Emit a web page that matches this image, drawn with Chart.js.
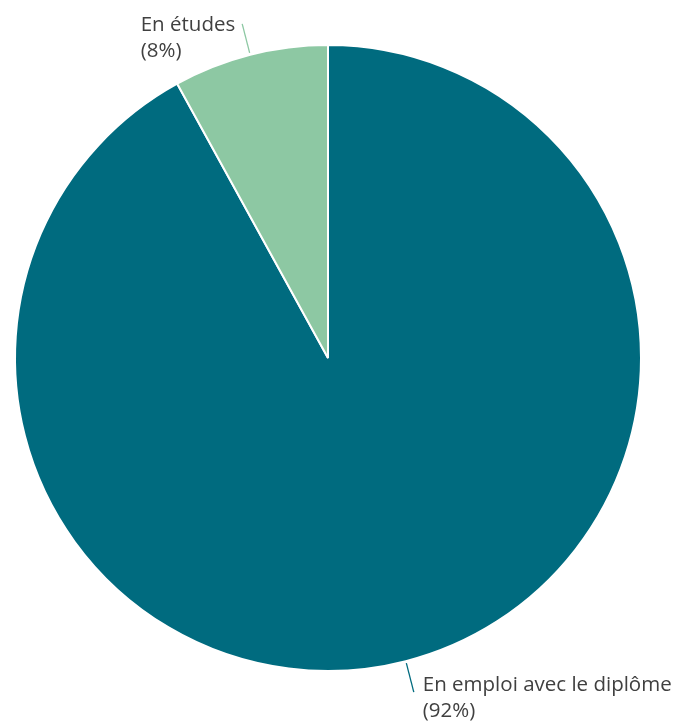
<!DOCTYPE html>
<html>
<head>
<meta charset="utf-8">
<script src="https://cdn.jsdelivr.net/npm/chart.js@4"></script>
<style>
  body { margin: 0; background: #fff; }
</style>
</head>
<body>
<canvas id="myChart" width="681" height="723"></canvas>
<script>
"use strict";
const categories = ["En emploi avec le diplôme", "En études"];
const shares = [92, 8];
const colors = ["#006b7f", "#8dc8a3"];

const labelPlugin = {
    id: "leaderLabels",
    afterDatasetsDraw(chart) {
        const ctx = chart.ctx;
        const arcs = chart.getDatasetMeta(0).data;
        ctx.save();
        ctx.font = "20.5px 'Open Sans'";
        ctx.textBaseline = "middle";
        arcs.forEach((arc, i) => {
            const mid = (arc.startAngle + arc.endAngle) / 2;
            const r = arc.outerRadius;
            const x0 = arc.x + Math.cos(mid) * (r + 2);
            const y0 = arc.y + Math.sin(mid) * (r + 2);
            const x1 = arc.x + Math.cos(mid) * (r + 32);
            const y1 = arc.y + Math.sin(mid) * (r + 32);
            ctx.strokeStyle = colors[i];
            ctx.lineWidth = 1.3;
            ctx.beginPath();
            ctx.moveTo(x0, y0);
            ctx.lineTo(x1, y1);
            ctx.stroke();
            const lines = [categories[i], "(" + shares[i] + "%)"];
            ctx.fillStyle = "#404040";
            ctx.textAlign = "left";
            const w = ctx.measureText(lines[0]).width;
            const above = y1 < arc.y;
            const left = x1 < arc.x ? x1 - 7 - w : x1 + 9;
            const top = above ? y1 + 1 : y1 - 7;
            lines.forEach((t, k) => ctx.fillText(t, left, top + k * 26));
        });
        ctx.restore();
    }
};

new Chart(document.querySelector("#myChart").getContext("2d"), {
    type: "pie",
    data: {
        labels: categories,
        datasets: [{
            data: shares,
            backgroundColor: colors,
            borderColor: "#ffffff",
            borderWidth: 2
        }]
    },
    options: {
        responsive: false,
        animation: false,
        layout: { padding: { left: 14, right: 39, top: 44, bottom: 51 } },
        plugins: {
            legend: { display: false },
            tooltip: { enabled: false }
        }
    },
    plugins: [labelPlugin]
});
</script>
</body>
</html>
